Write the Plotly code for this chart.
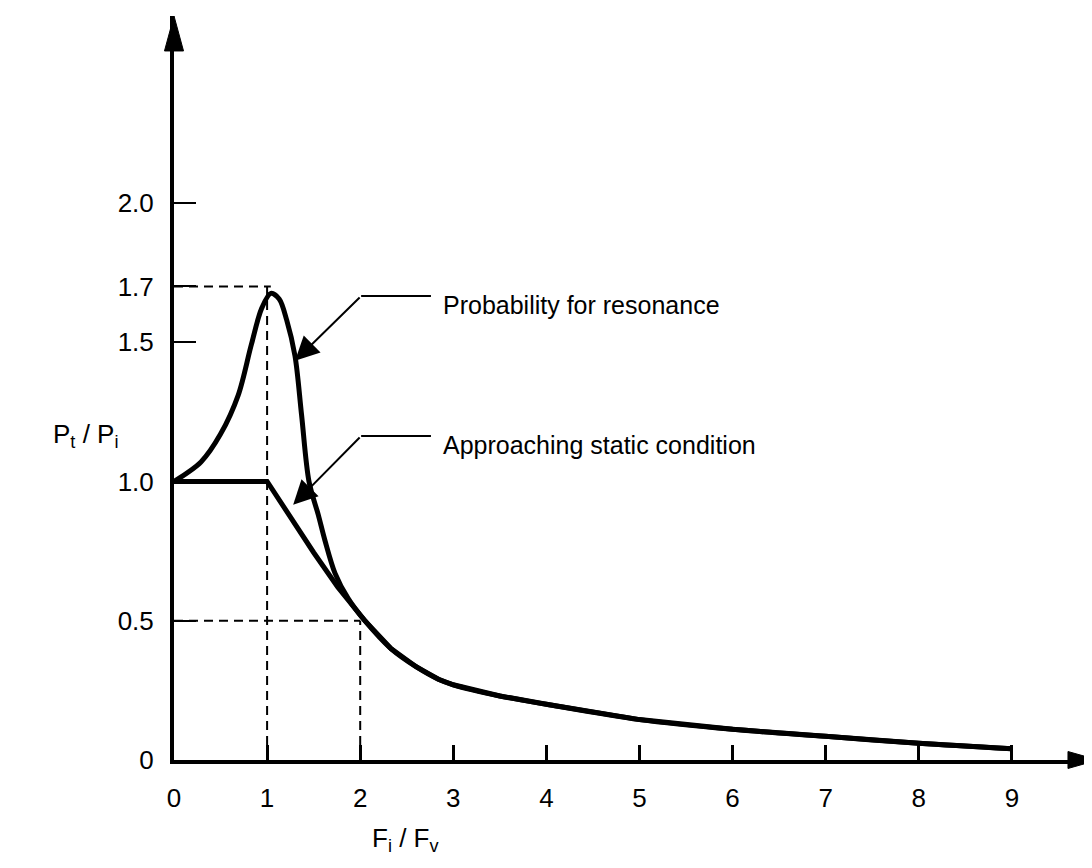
import plotly.graph_objects as go

# ---- data ----
res_x = [0, 0.29, 0.5, 0.69, 0.83, 0.94, 1.04, 1.13, 1.21, 1.3, 1.37, 1.45, 1.55, 1.62, 1.73, 1.87, 2.05, 2.33, 2.6, 2.84, 3, 3.5, 4, 5, 6, 7, 8, 9]
res_y = [1.0, 1.07, 1.17, 1.31, 1.49, 1.62, 1.675, 1.655, 1.58, 1.45, 1.24, 1.0, 0.88, 0.79, 0.67, 0.58, 0.5, 0.40, 0.335, 0.29, 0.27, 0.23, 0.2, 0.145, 0.11, 0.085, 0.06, 0.04]

static_x = [0, 1.0, 1.5, 1.76, 2.05, 2.33, 2.6, 2.84, 3, 3.5, 4, 5, 6, 7, 8, 9]
static_y = [1.0, 1.0, 0.745, 0.62, 0.5, 0.40, 0.335, 0.29, 0.27, 0.23, 0.2, 0.145, 0.11, 0.085, 0.06, 0.04]

x_ticks = [0, 1, 2, 3, 4, 5, 6, 7, 8, 9]
x_tick_text = ["0", "1", "2", "3", "4", "5", "6", "7", "8", "9"]
y_ticks = [0, 0.5, 1.0, 1.5, 1.7, 2.0]
y_tick_text = ["0", "0.5", "1.0", "1.5", "1.7", "2.0"]

peak_x, peak_y = 1.0, 1.7
half_x, half_y = 2.0, 0.5

label_res = "Probability for resonance"
label_static = "Approaching static condition"

FONT = "Liberation Sans, Arial, Helvetica, sans-serif"
X_MAX = 9.925
Y_MAX = 2.671

fig = go.Figure()
fig.add_trace(go.Scatter(x=static_x, y=static_y, mode="lines", line=dict(color="black", width=5, shape="linear"),
                         hoverinfo="skip", showlegend=False))
fig.add_trace(go.Scatter(x=res_x, y=res_y, mode="lines", line=dict(color="black", width=5, shape="spline", smoothing=0.9),
                         hoverinfo="skip", showlegend=False))

dash = dict(color="black", width=2, dash="9px,6px")
# guide lines
fig.add_shape(type="line", xref="x", yref="y", x0=0, x1=peak_x + 0.04, y0=peak_y, y1=peak_y, line=dash, layer="below")
fig.add_shape(type="line", xref="x", yref="y", x0=peak_x, x1=peak_x, y0=0, y1=peak_y, line=dash, layer="below")
fig.add_shape(type="line", xref="x", yref="y", x0=0, x1=half_x, y0=half_y, y1=half_y, line=dash, layer="below")
fig.add_shape(type="line", xref="x", yref="y", x0=half_x, x1=half_x, y0=0, y1=half_y, line=dash, layer="below")

# axis arrowheads (paper coords)
fig.add_shape(type="path", xref="paper", yref="paper",
              path="M 0.9675,-0.0114 L 1.0,0 L 0.9675,0.0114 Z", fillcolor="black", line=dict(color="black", width=1))
fig.add_shape(type="path", xref="paper", yref="paper",
              path="M -0.0103,0.953 L 0,1.0 L 0.0103,0.953 Z", fillcolor="black", line=dict(color="black", width=1))

# callouts
tips = [(1.30, 1.433), (1.28, 0.916)]
elbows = [(2.01, 1.666), (2.01, 1.163)]
ends = [(2.76, 1.666), (2.76, 1.163)]
texts = [label_res, label_static]
text_y = [1.634, 1.131]
for (tx, ty), (ex, ey), (hx, hy), t, yy in zip(tips, elbows, ends, texts, text_y):
    fig.add_shape(type="line", xref="x", yref="y", x0=ex, y0=ey, x1=hx, y1=hy, line=dict(color="black", width=2))
    fig.add_annotation(x=tx, y=ty, ax=ex, ay=ey, xref="x", yref="y", axref="x", ayref="y", text="",
                       showarrow=True, arrowhead=2, arrowsize=2.4, arrowwidth=2, arrowcolor="black", standoff=0)
    fig.add_annotation(x=2.87, y=yy, xref="x", yref="y", text=t, showarrow=False, xanchor="left", yanchor="middle",
                       font=dict(family=FONT, size=25, color="black"))

# axis titles
fig.add_annotation(x=-0.133, y=0.4355, xref="paper", yref="paper", text="P<sub>t</sub> / P<sub>i</sub>",
                   showarrow=False, font=dict(family=FONT, size=26, color="black"))
fig.add_annotation(x=0.212, y=-0.132, xref="paper", yref="paper", text="F<sub>i</sub> / F<sub>v</sub>",
                   showarrow=False, font=dict(family=FONT, size=26, color="black"))

fig.update_layout(
    width=1092, height=868,
    margin=dict(l=166, r=2, t=8, b=116),
    paper_bgcolor="white", plot_bgcolor="white",
    font=dict(family=FONT, size=26, color="black"),
    xaxis=dict(range=[0, X_MAX], showgrid=False, zeroline=False, showline=True, linecolor="black", linewidth=4,
               tickvals=x_ticks, ticktext=x_tick_text, ticks="inside", ticklen=15, tickwidth=3, tickcolor="black",
               ticklabelstandoff=12, fixedrange=True),
    yaxis=dict(range=[0, Y_MAX], showgrid=False, zeroline=False, showline=True, linecolor="black", linewidth=4,
               tickvals=y_ticks, ticktext=y_tick_text, ticks="inside", ticklen=22, tickwidth=2, tickcolor="black",
               ticklabelstandoff=11, fixedrange=True),
)

fig.write_html("out.html")
